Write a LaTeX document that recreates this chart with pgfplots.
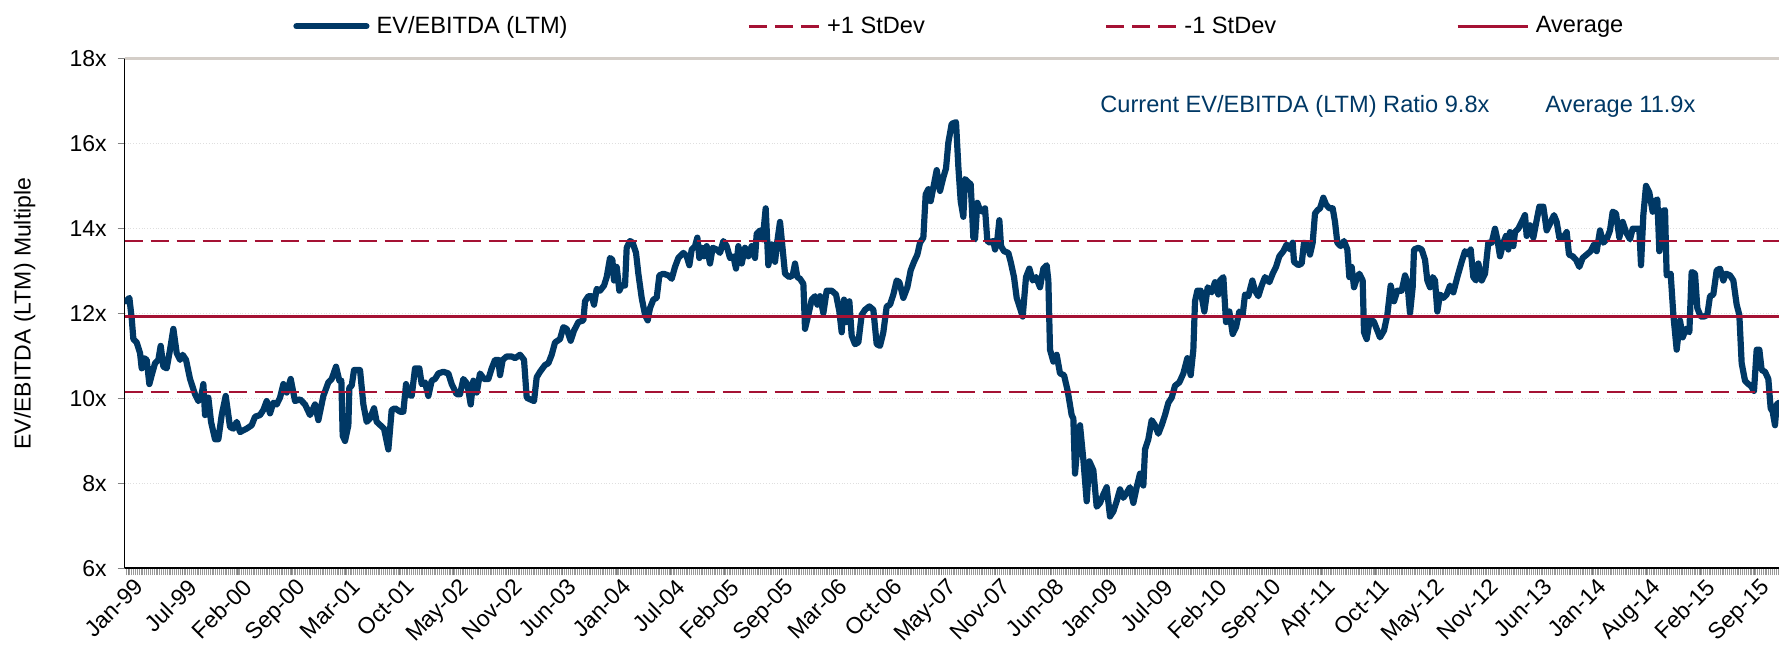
\documentclass[border=0pt]{standalone}
\usepackage{fontspec}
\setmainfont{Liberation Sans}
\usepackage{pgfplots}
\usepackage{pgfplotstable}
\pgfplotsset{compat=1.18}
\definecolor{navy}{RGB}{0,56,101}
\definecolor{crim}{RGB}{165,18,52}
\definecolor{topgray}{RGB}{212,206,200}
\pgfplotstableread{
x y
0 12.29
10 12.37
17 11.89
22 11.40
32 11.32
42 11.07
47 10.71
54 10.95
62 10.91
70 10.34
77 10.55
87 10.83
97 10.91
104 11.24
112 10.75
122 10.71
132 11.15
142 11.64
152 11.07
162 10.91
170 11.03
180 10.91
192 10.46
207 10.10
217 9.94
225 10.02
232 10.34
237 9.61
247 10.02
255 9.45
267 9.04
277 9.04
287 9.61
299 10.06
312 9.33
322 9.29
332 9.45
342 9.21
362 9.29
377 9.37
387 9.57
402 9.61
412 9.73
422 9.94
432 9.65
442 9.90
452 9.86
462 10.02
472 10.34
482 10.14
494 10.46
507 9.94
522 9.98
537 9.86
552 9.61
567 9.86
577 9.49
592 10.06
607 10.38
617 10.46
630 10.75
640 10.42
646 10.42
650 9.12
657 9.00
667 9.37
670 10.26
677 10.30
684 10.67
702 10.67
712 9.86
722 9.45
732 9.53
744 9.77
752 9.45
774 9.29
787 8.80
797 9.73
807 9.77
822 9.69
832 9.69
840 10.34
847 10.10
857 10.06
867 10.71
880 10.71
887 10.34
897 10.38
907 10.06
917 10.42
927 10.46
937 10.59
952 10.63
967 10.59
977 10.34
992 10.10
1002 10.10
1012 10.46
1024 10.34
1034 9.86
1042 10.42
1052 10.14
1062 10.59
1074 10.46
1087 10.46
1097 10.71
1107 10.91
1117 10.91
1122 10.55
1130 10.91
1142 10.99
1157 10.99
1167 10.95
1182 11.03
1194 10.91
1202 10.02
1212 9.98
1224 9.94
1232 10.50
1242 10.63
1257 10.79
1267 10.83
1277 11.03
1287 11.32
1302 11.40
1312 11.68
1322 11.64
1334 11.36
1344 11.60
1357 11.80
1372 11.84
1377 12.29
1387 12.41
1397 12.41
1404 12.21
1412 12.58
1422 12.54
1434 12.66
1442 12.86
1452 13.31
1459 13.27
1464 12.78
1472 13.10
1480 12.54
1487 12.66
1497 12.66
1502 13.55
1512 13.71
1520 13.67
1530 13.43
1537 12.94
1547 12.37
1557 11.97
1565 11.84
1572 12.13
1582 12.33
1592 12.37
1600 12.90
1612 12.94
1627 12.90
1637 12.82
1647 13.10
1657 13.31
1672 13.43
1682 13.35
1690 13.14
1697 13.51
1707 13.59
1714 13.79
1720 13.31
1727 13.55
1734 13.35
1742 13.59
1752 13.18
1760 13.55
1772 13.51
1782 13.43
1792 13.71
1802 13.59
1812 13.31
1822 13.35
1830 13.06
1837 13.59
1847 13.18
1857 13.55
1867 13.35
1877 13.59
1887 13.31
1892 13.88
1902 13.96
1910 13.75
1919 14.48
1927 13.14
1937 13.63
1947 13.22
1954 13.71
1962 14.16
1970 13.51
1977 12.94
1990 12.86
2000 12.90
2007 13.18
2014 12.86
2022 12.82
2032 12.70
2037 11.64
2047 11.97
2057 12.33
2067 12.41
2074 12.21
2082 12.41
2092 12.01
2102 12.54
2117 12.54
2130 12.45
2140 12.05
2147 11.56
2154 12.33
2162 11.80
2170 12.29
2177 11.48
2187 11.28
2197 11.32
2207 11.97
2217 12.09
2230 12.17
2242 12.09
2252 11.28
2262 11.24
2272 11.56
2282 12.17
2292 12.21
2302 12.45
2312 12.78
2320 12.74
2332 12.37
2344 12.62
2354 13.02
2364 13.22
2374 13.39
2382 13.67
2392 13.79
2399 14.81
2407 14.93
2414 14.65
2422 14.97
2432 15.38
2442 14.89
2452 15.21
2460 15.42
2467 16.03
2477 16.47
2490 16.51
2497 15.46
2504 14.65
2512 14.28
2517 15.17
2527 15.09
2534 15.05
2542 13.79
2547 13.75
2554 14.61
2562 14.44
2570 14.40
2577 14.48
2584 13.71
2592 13.67
2602 13.71
2607 13.51
2614 13.75
2620 14.20
2625 13.59
2634 13.47
2647 13.43
2654 13.22
2664 12.86
2672 12.37
2682 12.13
2690 11.93
2700 12.86
2710 13.06
2720 12.78
2730 12.86
2742 12.62
2752 13.06
2762 13.14
2767 12.78
2772 11.15
2782 10.87
2792 11.03
2802 10.59
2814 10.55
2825 10.18
2837 9.61
2842 9.53
2847 8.23
2854 8.88
2862 9.37
2872 8.56
2882 7.58
2890 8.52
2902 8.31
2912 7.45
2922 7.54
2932 7.74
2942 7.91
2952 7.22
2962 7.34
2972 7.58
2982 7.86
2992 7.66
3002 7.78
3012 7.91
3022 7.54
3032 7.91
3042 8.23
3052 7.95
3057 8.80
3067 9.04
3077 9.49
3087 9.37
3097 9.17
3107 9.37
3117 9.61
3127 9.90
3137 10.02
3147 10.30
3160 10.38
3172 10.59
3184 10.95
3194 10.55
3202 11.15
3207 12.29
3214 12.54
3224 12.54
3235 12.05
3245 12.62
3257 12.50
3267 12.74
3277 12.45
3282 12.78
3292 12.86
3300 11.80
3310 12.05
3320 11.52
3330 11.68
3340 12.05
3350 11.97
3357 12.45
3367 12.41
3379 12.78
3387 12.54
3397 12.41
3407 12.66
3417 12.86
3430 12.74
3440 12.94
3450 13.10
3460 13.35
3472 13.47
3482 13.63
3492 13.51
3500 13.67
3504 13.22
3517 13.14
3527 13.18
3534 13.67
3544 13.63
3552 13.39
3560 13.67
3567 14.36
3575 14.44
3582 14.48
3592 14.73
3600 14.57
3610 14.48
3620 14.48
3627 14.16
3634 13.67
3644 13.59
3654 13.71
3664 13.51
3670 12.86
3677 13.10
3684 12.62
3692 12.82
3700 12.94
3710 12.78
3714 11.56
3722 11.40
3732 11.89
3744 11.80
3754 11.60
3762 11.44
3774 11.60
3784 11.97
3794 12.66
3804 12.29
3814 12.54
3827 12.54
3837 12.90
3844 12.74
3852 12.01
3860 12.62
3864 13.51
3877 13.55
3887 13.51
3897 13.27
3904 12.78
3912 12.62
3920 12.86
3927 12.78
3934 12.05
3942 12.45
3952 12.37
3962 12.45
3972 12.66
3982 12.50
3994 12.86
4007 13.22
4017 13.47
4027 13.39
4034 13.51
4042 12.86
4050 12.78
4057 13.18
4067 12.78
4077 12.94
4087 13.67
4097 13.67
4107 14.00
4114 13.75
4122 13.35
4132 13.67
4140 13.83
4147 13.51
4152 13.92
4162 13.59
4167 13.92
4177 14.00
4187 14.16
4197 14.32
4202 13.83
4212 14.08
4222 13.79
4232 14.20
4240 14.52
4252 14.52
4262 13.96
4272 14.12
4284 14.32
4292 14.16
4300 13.79
4312 13.79
4322 13.92
4329 13.39
4340 13.35
4350 13.27
4360 13.10
4370 13.31
4382 13.39
4394 13.47
4404 13.63
4412 13.47
4422 13.96
4432 13.67
4442 13.75
4452 13.96
4460 14.40
4470 14.36
4480 13.79
4490 14.16
4500 13.92
4512 13.75
4520 14.00
4532 14.00
4540 14.00
4545 13.14
4552 14.32
4560 15.01
4570 14.85
4580 14.40
4587 14.65
4594 14.69
4600 13.47
4607 14.40
4617 14.44
4622 12.90
4634 12.94
4642 11.97
4652 11.15
4662 11.84
4670 11.44
4680 11.64
4690 11.56
4697 12.98
4707 12.94
4714 12.13
4724 11.93
4734 11.93
4744 11.97
4752 12.41
4762 12.45
4772 13.02
4782 13.06
4792 12.78
4800 12.94
4812 12.90
4822 12.78
4832 12.21
4840 11.97
4847 10.83
4857 10.42
4867 10.34
4874 10.30
4884 10.18
4892 11.15
4900 11.15
4907 10.67
4917 10.63
4927 10.46
4934 9.77
4940 9.69
4947 9.37
4952 9.86
4959 9.90
}\evdata
\begin{document}
\begin{tikzpicture}
\useasboundingbox (0,0) rectangle (889.5pt,327pt);
\begin{axis}[
  at={(62.35pt,42.85pt)}, anchor=south west,
  scale only axis, width=827.15pt, height=254.7pt,
  xmin=-4, xmax=4959, ymin=6, ymax=18,
  clip mode=individual,
  axis x line*=bottom, axis y line*=left,
  x axis line style={black, line width=1pt},
  y axis line style={black, line width=0.75pt},
  ytick={6,8,...,18},
  yticklabels={6x,8x,10x,12x,14x,16x,18x},
  xtick={8,170.6,...,4886},
  xticklabels={Jan-99,Jul-99,Feb-00,Sep-00,Mar-01,Oct-01,May-02,Nov-02,Jun-03,Jan-04,Jul-04,Feb-05,Sep-05,Mar-06,Oct-06,May-07,Nov-07,Jun-08,Jan-09,Jul-09,Feb-10,Sep-10,Apr-11,Oct-11,May-12,Nov-12,Jun-13,Jan-14,Aug-14,Feb-15,Sep-15},
  minor xtick={0,5.6,...,4956},
  tick align=outside,
  major tick length=3.5pt, minor tick length=3.5pt,
  tick style={gray, line width=0.5pt},
  minor tick style={gray!80, line width=0.4pt},
  ymajorgrids, grid style={gray!25, densely dotted, line width=0.5pt},
  /pgf/number format/assume math mode=true,
  tick label style={font=\fontsize{11.5}{13.5}\selectfont, black},
  xticklabel style={rotate=45, anchor=north east, inner sep=1pt, xshift=2pt, yshift=-1pt},
  yticklabel style={xshift=-2pt},
  ylabel={EV/EBITDA (LTM) Multiple},
  ylabel style={at={(axis description cs:-0.0605,0.5)}, anchor=center, font=\fontsize{11.5}{13.5}\selectfont},
  legend style={at={(0.1017,1.064)}, anchor=west, draw=none, fill=none,
    legend columns=4, inner sep=0pt, font=\fontsize{11.8}{14}\selectfont,
    nodes={inner sep=0pt},
    /tikz/every odd column/.append style={column sep=3.5pt},
    /tikz/every even column/.append style={column sep=90pt}},
  legend image code/.code={\draw[#1] (0pt,0pt) -- (35pt,0pt);},
]
\addplot[navy, line width=3.1pt, line join=round, line cap=round] table[x=x,y=y] {\evdata};
\addlegendentry{EV/EBITDA (LTM)}
\addplot[crim, line width=1.3pt, dash pattern=on 9pt off 4pt] coordinates {(-4,13.71) (4959,13.71)};
\addlegendentry{+1 StDev}
\addplot[crim, line width=1.3pt, dash pattern=on 9pt off 4pt] coordinates {(-4,10.15) (4959,10.15)};
\addlegendentry{-1 StDev}
\addplot[crim, line width=1.3pt] coordinates {(-4,11.93) (4959,11.93)};
\addlegendentry{Average}
\draw[topgray, line width=1.5pt] (rel axis cs:0,1) -- (rel axis cs:1,1);
\node[anchor=base west, inner sep=0pt, text=navy, font=\fontsize{11.8}{14}\selectfont] at (axis cs:2922,16.73) {Current EV/EBITDA (LTM) Ratio 9.8x};
\node[anchor=base west, inner sep=0pt, text=navy, font=\fontsize{11.8}{14}\selectfont] at (axis cs:4257,16.73) {Average 11.9x};
\end{axis}
\end{tikzpicture}
\end{document}
